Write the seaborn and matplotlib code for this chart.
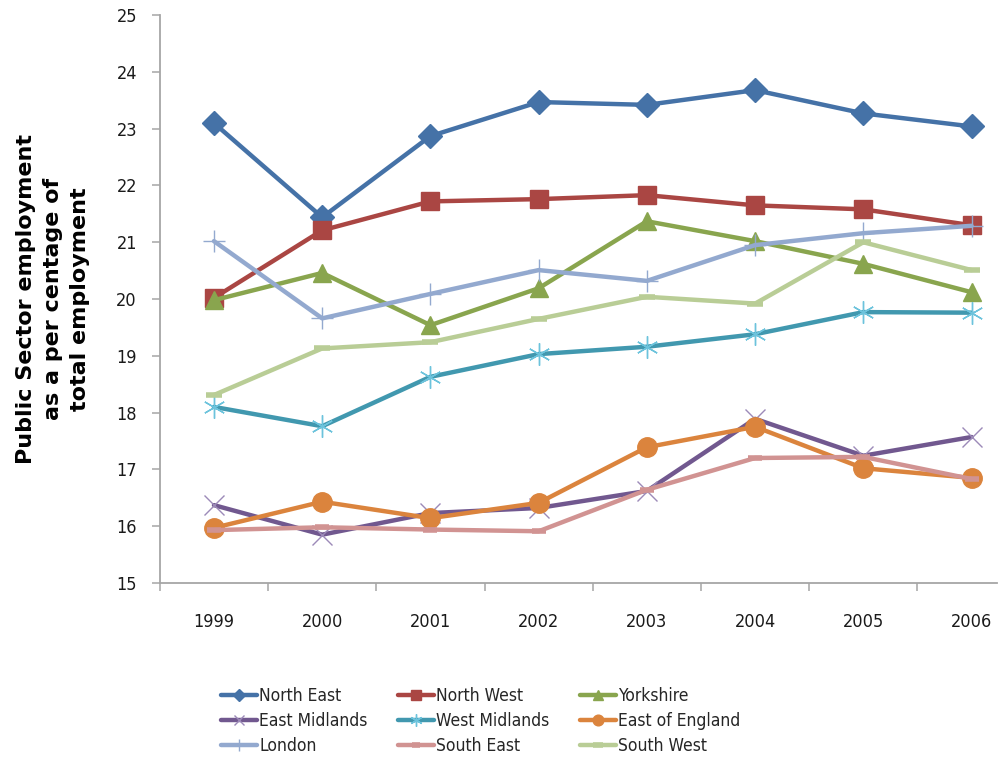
import matplotlib
matplotlib.use("Agg")
import matplotlib.pyplot as plt
import seaborn as sns
import numpy as np
import pandas as pd
from matplotlib.ticker import FixedLocator
from matplotlib.font_manager import FontProperties

years = [1999, 2000, 2001, 2002, 2003, 2004, 2005, 2006]
north_east = [23.10, 21.44, 22.87, 23.47, 23.42, 23.68, 23.27, 23.04]
north_west = [20.02, 21.21, 21.72, 21.76, 21.83, 21.65, 21.58, 21.30]
yorkshire = [19.98, 20.46, 19.54, 20.19, 21.37, 21.02, 20.62, 20.12]
east_midlands = [16.37, 15.85, 16.23, 16.32, 16.62, 17.89, 17.24, 17.57]
west_midlands = [18.10, 17.76, 18.63, 19.03, 19.16, 19.38, 19.77, 19.76]
east_of_england = [15.97, 16.43, 16.14, 16.41, 17.39, 17.75, 17.02, 16.85]
london = [21.02, 19.66, 20.09, 20.51, 20.32, 20.95, 21.16, 21.29]
south_east = [15.93, 15.98, 15.94, 15.91, 16.64, 17.20, 17.22, 16.83]
south_west = [18.31, 19.13, 19.24, 19.65, 20.04, 19.92, 21.00, 20.51]

region_names = ["North East", "North West", "Yorkshire", "East Midlands", "West Midlands",
                "East of England", "London", "South East", "South West"]
series = [north_east, north_west, yorkshire, east_midlands, west_midlands,
          east_of_england, london, south_east, south_west]

line_colors = ["#4572A7", "#AA4643", "#89A54E", "#71588F", "#4198AF",
               "#DB843D", "#93A9CF", "#D19392", "#B9CD96"]
marker_colors = ["#4572A7", "#AA4643", "#89A54E", "#9C8AB8", "#6CC3DC",
                 "#DB843D", "#93A9CF", "#D19392", "#B9CD96"]
markers = ["D", "s", "^", "x", (6, 2, 0), "o", "+", "_", "_"]
msizes = [12, 13.5, 13.5, 14, 16, 14, 16, 10, 12]
mews = [1, 1, 1, 1.0, 1.0, 1, 1.0, 4, 4]

sns.set_theme(style="white")
plt.rcParams["font.family"] = ["DejaVu Sans"]

fig = plt.figure(figsize=(9.99, 7.59), dpi=100)
ax = fig.add_axes([0.160, 0.232, 0.838, 0.748])

for name, vals, lc, mc, mk, ms, mw in zip(region_names, series, line_colors, marker_colors,
                                         markers, msizes, mews):
    df = pd.DataFrame({"year": years, "value": vals})
    sns.lineplot(data=df, x="year", y="value", ax=ax, color=lc, linewidth=3.2,
                 marker=mk, markersize=ms, markeredgewidth=mw, markerfacecolor=mc,
                 markeredgecolor=mc, label=name, legend=False, clip_on=False)

ax.set_ylim(15, 25)
ax.set_xlim(years[0] - 0.5, years[-1] + 0.235)
ax.set_yticks(np.arange(15, 26, 1))
ax.set_xticks(years)
ax.set_xticklabels([str(y) for y in years])
ax.xaxis.set_minor_locator(FixedLocator([y - 0.5 for y in years]))

for s in ["top", "right"]:
    ax.spines[s].set_visible(False)
for s in ["left", "bottom"]:
    ax.spines[s].set_color("#A6A6A6")
    ax.spines[s].set_linewidth(1.3)

ax.tick_params(axis="y", which="major", direction="out", length=5.5, width=1.1,
               color="#A6A6A6", left=True, pad=11, labelsize=13, labelcolor="#1a1a1a")
ax.tick_params(axis="x", which="major", length=0, pad=22, labelsize=13, labelcolor="#1a1a1a")
ax.tick_params(axis="x", which="minor", direction="out", length=5.5, width=1.1,
               color="#A6A6A6", bottom=True)
for lab in ax.get_xticklabels() + ax.get_yticklabels():
    lab.set_fontstretch("condensed")

ax.set_xlabel("")
ax.set_ylabel("Public Sector employment\nas a per centage of\ntotal employment",
              fontsize=16, fontweight="bold", linespacing=1.42,
              color="black")
ax.yaxis.set_label_coords(-0.084, 0.5)
ax.grid(False)

handles, labels = ax.get_legend_handles_labels()
order = [0, 3, 6, 1, 4, 7, 2, 5, 8]
legprop = FontProperties(family=["DejaVu Sans"], stretch="condensed", size=12.5)
leg = fig.legend([handles[i] for i in order], [labels[i] for i in order],
                 loc="upper left", bbox_to_anchor=(0.2215, 0.095), ncol=3,
                 frameon=False, handlelength=2.05, handletextpad=0.15,
                 columnspacing=1.75, labelspacing=0.42, markerscale=0.55, borderaxespad=0,
                 borderpad=0, prop=legprop)

fig.savefig("out.png", dpi=100)
